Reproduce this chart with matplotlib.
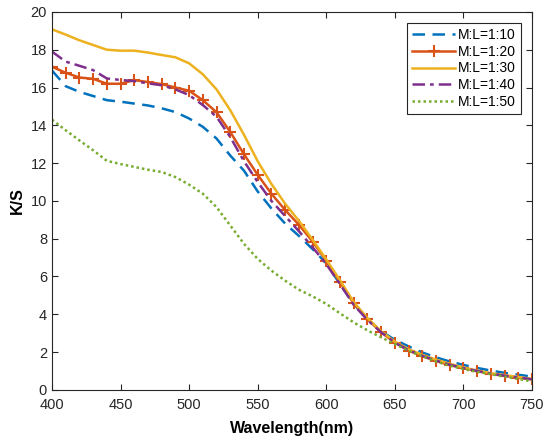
import matplotlib.pyplot as plt
import numpy as np

plt.rcParams['font.family'] = ['Liberation Sans', 'DejaVu Sans']

# wavelength grid (nm)
wavelength = np.arange(400, 751, 10)

# K/S values for each mixing ratio
ks_1_10 = [16.9, 16.07, 15.77, 15.55, 15.33, 15.25, 15.15, 15.05, 14.9, 14.7,
           14.36, 13.92, 13.3, 12.4, 11.6, 10.5, 9.6, 8.8, 8.15, 7.45,
           6.7, 5.6, 4.55, 3.75, 3.1, 2.65, 2.3, 1.98, 1.72, 1.5,
           1.32, 1.16, 1.02, 0.9, 0.8, 0.7]
ks_1_20 = [17.1, 16.78, 16.53, 16.46, 16.2, 16.2, 16.39, 16.29, 16.18, 16.0,
           15.83, 15.33, 14.69, 13.65, 12.47, 11.38, 10.38, 9.52, 8.74, 7.85,
           6.84, 5.69, 4.58, 3.75, 3.05, 2.5, 2.08, 1.78, 1.53, 1.31,
           1.15, 0.99, 0.84, 0.74, 0.64, 0.55]
ks_1_30 = [19.08, 18.8, 18.5, 18.25, 18.0, 17.95, 17.95, 17.85, 17.72, 17.6,
           17.28, 16.7, 15.9, 14.8, 13.5, 12.1, 10.9, 9.85, 8.95, 7.95,
           6.9, 5.8, 4.65, 3.8, 3.1, 2.55, 2.15, 1.85, 1.6, 1.38,
           1.18, 1.02, 0.88, 0.78, 0.68, 0.58]
ks_1_40 = [17.9, 17.37, 17.15, 16.92, 16.48, 16.4, 16.34, 16.22, 16.12, 15.9,
           15.6, 15.07, 14.45, 13.38, 12.1, 11.0, 10.0, 9.2, 8.4, 7.55,
           6.65, 5.6, 4.5, 3.7, 3.05, 2.5, 2.1, 1.8, 1.55, 1.33,
           1.15, 1.0, 0.86, 0.75, 0.65, 0.56]
ks_1_50 = [14.3, 13.74, 13.2, 12.68, 12.12, 11.95, 11.8, 11.65, 11.53, 11.26,
           10.86, 10.38, 9.67, 8.7, 7.73, 6.93, 6.31, 5.78, 5.3, 4.95,
           4.55, 4.05, 3.57, 3.15, 2.78, 2.42, 2.07, 1.78, 1.5, 1.28,
           1.1, 0.95, 0.83, 0.7, 0.57, 0.45]

labels = ['M:L=1:10', 'M:L=1:20', 'M:L=1:30', 'M:L=1:40', 'M:L=1:50']

fig = plt.figure(figsize=(5.5, 4.42), dpi=100)
ax = fig.add_axes([0.0945, 0.118, 0.8727, 0.855])

ax.plot(wavelength, ks_1_10, color='#0072BD', linestyle=(0, (5, 3)), linewidth=1.8, label=labels[0])
ax.plot(wavelength, ks_1_20, color='#D95319', linestyle='-', linewidth=1.8, marker='+',
        markersize=8, markeredgewidth=1.5, label=labels[1])
ax.plot(wavelength, ks_1_30, color='#EDB120', linestyle='-', linewidth=1.8, label=labels[2])
ax.plot(wavelength, ks_1_40, color='#7E2F8E', linestyle=(0, (5, 2, 1.5, 2)), linewidth=1.8, label=labels[3])
ax.plot(wavelength, ks_1_50, color='#77AC30', linestyle=(0, (1, 1.2)), linewidth=1.8, label=labels[4])

ax.set_xlim(400, 750)
ax.set_ylim(0, 20)
ax.set_xticks(np.arange(400, 751, 50))
ax.set_yticks(np.arange(0, 21, 2))
ax.tick_params(direction='in', top=True, right=True, length=4, width=0.8,
               labelsize=10.5, colors='#262626', labelcolor='#262626')
ax.tick_params(axis='x', pad=6)
for s in ax.spines.values():
    s.set_color('#262626')
    s.set_linewidth(0.8)

ax.set_xlabel('Wavelength(nm)', fontsize=11.5, fontweight='bold', labelpad=6)
ax.set_ylabel('K/S', fontsize=11.5, fontweight='bold', labelpad=4)

leg = ax.legend(loc='upper right', fontsize=10, fancybox=False, framealpha=1,
                edgecolor='#262626', handlelength=3.1, handletextpad=0.2,
                borderpad=0.35, labelspacing=0.2, borderaxespad=0.8)
leg.get_frame().set_linewidth(0.8)

fig.savefig('out.png', dpi=100)
